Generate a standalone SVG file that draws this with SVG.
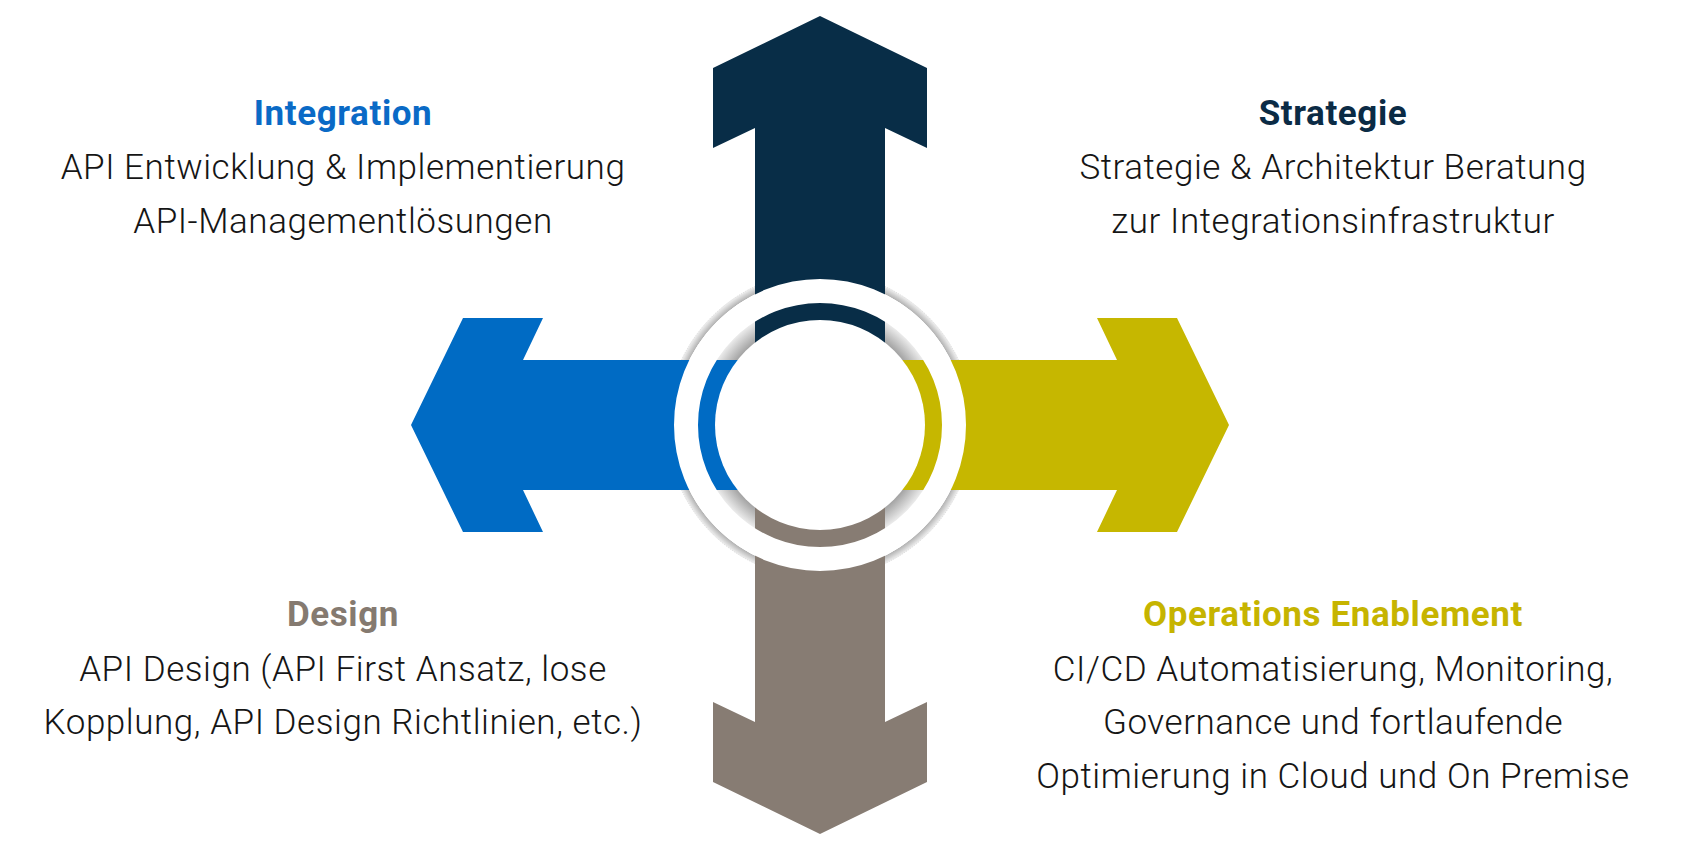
<svg xmlns="http://www.w3.org/2000/svg" width="1700" height="850" viewBox="0 0 1700 850">
  <style>
    .body { font-family: Roboto, "Noto Sans", "Liberation Sans", sans-serif; font-weight: 300; font-size: 35px; letter-spacing: 0.55px; fill: #151515; text-anchor: middle; }
    .title { font-family: Roboto, "Noto Sans", "Liberation Sans", sans-serif; font-weight: 700; font-size: 35px; letter-spacing: 0.6px; text-anchor: middle; }
  </style>
  <defs>
    <radialGradient id="shadow" gradientUnits="userSpaceOnUse" cx="820" cy="425" r="154">
      <stop offset="0.68" stop-color="#a2a2a2"/>
      <stop offset="0.795" stop-color="#eeeeee"/>
      <stop offset="0.80" stop-color="#ffffff"/>
      <stop offset="0.945" stop-color="#ffffff"/>
      <stop offset="0.95" stop-color="#b4b4b4"/>
      <stop offset="1" stop-color="#f8f8f8"/>
    </radialGradient>
  </defs>
  <rect width="1700" height="850" fill="#ffffff"/>

  <g id="ring-shadow">
    <circle cx="820" cy="425" r="153" fill="url(#shadow)"/>
    <circle cx="820" cy="425" r="153" fill="none" stroke="#d4d4d4" stroke-width="0.8" stroke-dasharray="1.5 1"/>
  </g>

  <g id="arrow-strategie">
    <polygon fill="#082d47" points="820,16 927,68 927,148 885,128 885,425 755,425 755,128 713,148 713,68"/>
  </g>
  <g id="arrow-design">
    <polygon fill="#877c73" points="820,834 927,782 927,702 885,722 885,425 755,425 755,722 713,702 713,782"/>
  </g>
  <g id="arrow-integration">
    <polygon fill="#006bc4" points="411,425 463,318 543,318 523,360 820,360 820,490 523,490 543,532 463,532"/>
  </g>
  <g id="arrow-operations">
    <polygon fill="#c6b700" points="1229,425 1177,318 1097,318 1117,360 820,360 820,490 1117,490 1097,532 1177,532"/>
  </g>

  <g id="center-ring">
    <circle cx="820" cy="425" r="134" fill="none" stroke="#ffffff" stroke-width="24"/>
    <circle cx="820" cy="425" r="105" fill="#ffffff"/>
  </g>

  <g id="node-integration">
    <text class="title" x="343" y="125" fill="#0a6ac6">Integration</text>
    <text class="body" x="343" y="179">API Entwicklung &amp; Implementierung</text>
    <text class="body" x="343" y="233">API-Managementlösungen</text>
  </g>
  <g id="node-strategie">
    <text class="title" x="1333" y="125" fill="#0b2b45">Strategie</text>
    <text class="body" x="1333" y="179">Strategie &amp; Architektur Beratung</text>
    <text class="body" x="1333" y="233">zur Integrationsinfrastruktur</text>
  </g>
  <g id="node-design">
    <text class="title" x="343" y="626" fill="#857a70">Design</text>
    <text class="body" x="343" y="681">API Design (API First Ansatz, lose</text>
    <text class="body" x="343" y="734">Kopplung, API Design Richtlinien, etc.)</text>
  </g>
  <g id="node-operations">
    <text class="title" x="1333" y="626" fill="#c6b400">Operations Enablement</text>
    <text class="body" x="1333" y="681">CI/CD Automatisierung, Monitoring,</text>
    <text class="body" x="1333" y="734">Governance und fortlaufende</text>
    <text class="body" x="1333" y="788">Optimierung in Cloud und On Premise</text>
  </g>
</svg>
